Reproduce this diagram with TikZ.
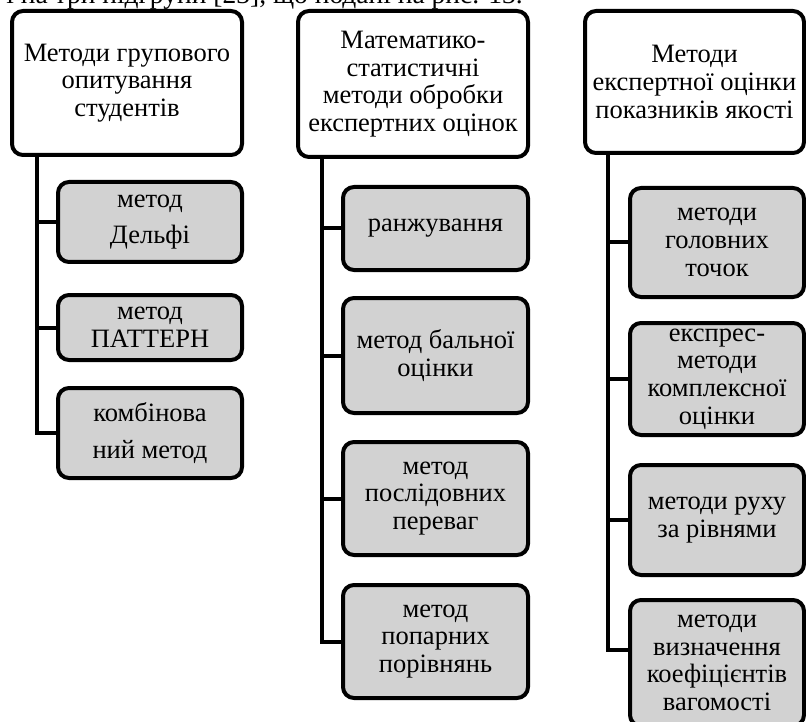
\documentclass[tikz,border=0pt]{standalone}
\usepackage{fontspec}
\setmainfont{Liberation Serif}
\definecolor{boxgray}{RGB}{210,210,210}
\begin{document}
\begin{tikzpicture}[x=1pt,y=-1pt,
  every node/.style={font=\fontsize{26.5}{27.7}\selectfont, align=center, inner sep=0pt},
  headbox/.style={draw, line width=4pt, rounded corners=11pt, fill=white},
  subbox/.style={draw, line width=4pt, rounded corners=11pt, fill=boxgray},
  link/.style={line width=4pt}
]
\useasboundingbox (0,0) rectangle (806,722);
\node[anchor=base east, font=\fontsize{27.5}{28}\selectfont] (toptext) at (523,4) {і на три підгрупи [23], що подані на рис. 13.};

% left column
\node[headbox, minimum width=230, minimum height=144] (L0) at (127,83) {Методи групового\\опитування\\студентів};
\node[subbox, minimum width=184, minimum height=80] (L1) at (150,222) {метод\\[9pt]Дельфі};
\node[subbox, minimum width=184, minimum height=65] (L2) at (150,327.5) {метод\\ПАТТЕРН};
\node[subbox, minimum width=184, minimum height=90] (L3) at (150,433) {комбінова\\[10pt]ний метод};
\coordinate (tL) at (37,0);
\draw[link] (tL |- L0.south) |- (L3.west);
\draw[link] (tL |- L1.west) -- (L1.west);
\draw[link] (tL |- L2.west) -- (L2.west);

% middle column
\node[headbox, minimum width=230, minimum height=146] (M0) at (413,84) {Математико-\\статистичні\\методи обробки\\експертних оцінок};
\node[subbox, minimum width=185, minimum height=83] (M1) at (435.5,228.5) {ранжування};
\node[subbox, minimum width=185, minimum height=115] (M2) at (435.5,355.5) {метод бальної\\оцінки};
\node[subbox, minimum width=185, minimum height=113] (M3) at (435.5,498.5) {метод\\послідовних\\переваг};
\node[subbox, minimum width=185, minimum height=113] (M4) at (435.5,641.5) {метод\\попарних\\порівнянь};
\coordinate (tM) at (322,0);
\draw[link] (tM |- M0.south) |- (M4.west);
\draw[link] (tM |- M1.west) -- (M1.west);
\draw[link] (tM |- M2.west) -- (M2.west);
\draw[link] (tM |- M3.west) -- (M3.west);

% right column
\node[headbox, minimum width=219, minimum height=142] (R0) at (694.5,82) {Методи\\експертної оцінки\\показників якості};
\node[subbox, minimum width=174, minimum height=109] (R1) at (717,242.5) {методи\\головних\\точок};
\node[subbox, minimum width=174, minimum height=112] (R2) at (717,379) {експрес-\\методи\\комплексної\\оцінки};
\node[subbox, minimum width=174, minimum height=110] (R3) at (717,520) {методи руху\\за рівнями};
\node[subbox, minimum width=174, minimum height=126] (R4) at (717,663) {методи\\визначення\\коефіцієнтів\\вагомості};
\coordinate (tR) at (608,0);
\coordinate (R4c) at ([yshift=13pt]R4.west);
\draw[link] (tR |- R0.south) |- (R4c);
\draw[link] (tR |- R1.west) -- (R1.west);
\draw[link] (tR |- R2.west) -- (R2.west);
\draw[link] (tR |- R3.west) -- (R3.west);
\end{tikzpicture}
\end{document}
